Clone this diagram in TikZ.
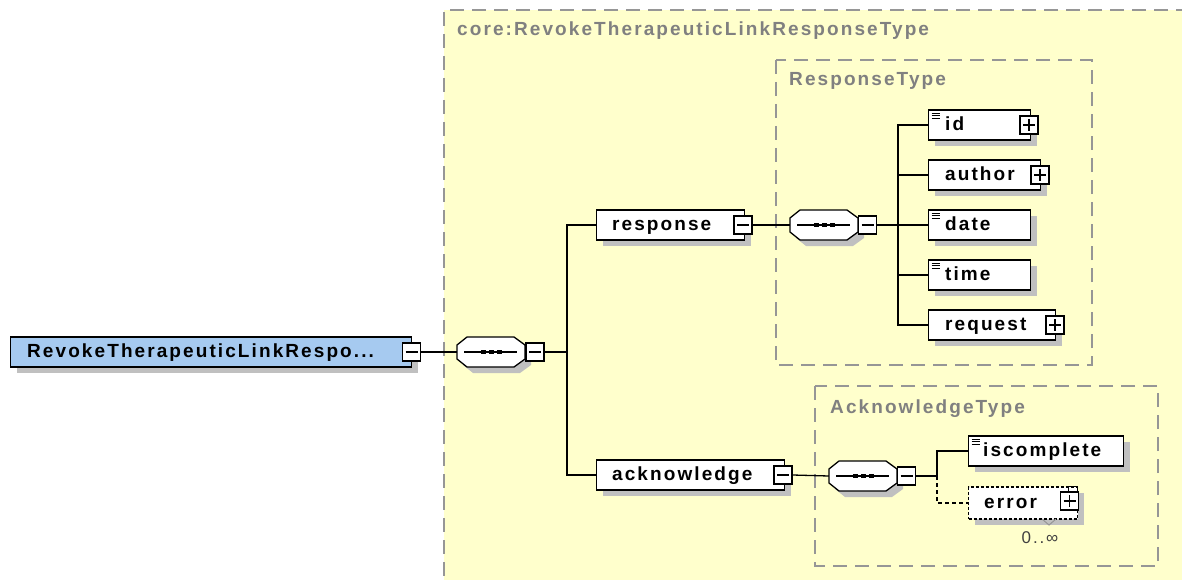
\documentclass[tikz,border=0pt]{standalone}
\usepackage{fontspec}
\setmainfont{Liberation Sans}
\newfontfamily\xfont[LetterSpace=11]{Liberation Sans}
\usetikzlibrary{shadows}
\definecolor{bgy}{RGB}{255,255,204}
\definecolor{shc}{RGB}{192,192,192}
\definecolor{rootblue}{RGB}{166,202,240}
\definecolor{tgray}{RGB}{128,128,128}
\definecolor{dgray}{RGB}{150,150,150}
\tikzset{
  shd/.style={drop shadow={shadow xshift=6pt,shadow yshift=-6pt,fill=shc,opacity=1}},
  elem/.style={rectangle,draw=black,line width=1.3pt,fill=white,shd,minimum height=30pt,inner sep=0pt},
  lbl/.style={font={\xfont\fontsize{19pt}{22pt}\selectfont\bfseries},inner sep=0pt,anchor=base west},
  ttl/.style={lbl,text=tgray},
  simple/.style={path picture={\foreach \k in {3,5.5,8}{\draw[line width=0.8pt] ([xshift=3pt,yshift=-\k pt]path picture bounding box.north west) -- ++(8pt,0);}}},
  mbox/.style={rectangle,draw=black,line width=1.1pt,fill=white,minimum size=18pt,inner sep=0pt,
    path picture={\draw[line width=1.1pt] ([xshift=3pt]path picture bounding box.west) -- ([xshift=-3pt]path picture bounding box.east);}},
  pbox/.style={mbox,path picture={\draw[line width=1.1pt] ([xshift=3pt]path picture bounding box.west) -- ([xshift=-3pt]path picture bounding box.east);
     \draw[line width=1.1pt] ([yshift=-3pt]path picture bounding box.north) -- ([yshift=3pt]path picture bounding box.south);}},
  seqanchor/.style={rectangle,minimum width=68pt,minimum height=30pt,inner sep=0pt},
  conn/.style={draw=black,line width=1.3pt},
  region/.style={draw=dgray,line width=1.8pt,dash pattern=on 14pt off 8pt},
}
% sequence compositor: name, x, y
\newcommand\mkseq[3]{%
  \node[seqanchor] (#1) at (#2,#3) {};
  \fill[shc,shift={(#2+6,#3+6)}] (-34,-7) -- (-24,-15) -- (23,-15) -- (34,-7) -- (34,7) -- (23,15) -- (-24,15) -- (-34,7) -- cycle;
  \filldraw[fill=white,draw=black,line width=1.3pt,shift={(#2,#3)}] (-34,-7) -- (-24,-15) -- (23,-15) -- (34,-7) -- (34,7) -- (23,15) -- (-24,15) -- (-34,7) -- cycle;
  \draw[line width=1.1pt,shift={(#2,#3)}] (-27,0) -- (26,0);
  \foreach \d in {-8,0,8}{\fill[shift={(#2,#3)}] (\d-2.5,-2) rectangle (\d+2.5,2);}
}
\begin{document}
\begin{tikzpicture}[x=1pt,y=-1pt]
\useasboundingbox (0,0) rectangle (1182,580);
% outer complex type region
\fill[bgy] (444,10) rectangle (1190,590);
\draw[region] (1190,10) -- (444,10) -- (444,590);
\node[ttl] (ttlcore) at (457,36) {core:RevokeTherapeuticLinkResponseType};
\draw[region] (776,60) rectangle (1092,365);
\node[ttl] (ttlresp) at (789,86) {ResponseType};
\draw[region] (815,386) rectangle (1158,566);
\node[ttl] (ttlack) at (830,413) {AcknowledgeType};

% root
\node[elem,fill=rootblue,minimum width=401pt,anchor=west] (root) at (10,352) {};
\node[lbl] (roottxt) at (27,357.5) {RevokeTherapeuticLinkRespo...};
\node[mbox] (rootm) at (411.5,352) {};

% sequence 1
\mkseq{seq1}{491}{352}
\node[mbox] (seq1m) at (535,352) {};
\coordinate (j1) at (567,352);

% response
\node[elem,minimum width=148pt,anchor=west] (resp) at (596,225) {};
\node[lbl] (resptxt) at (612,230.5) {response};
\node[mbox] (respm) at (743,225) {};

% acknowledge
\node[elem,minimum width=188pt,anchor=west] (ack) at (596,475) {};
\node[lbl] (acktxt) at (612,480.5) {acknowledge};
\node[mbox] (ackm) at (783,475) {};

% sequence 2
\mkseq{seq2}{824}{225}
\node[mbox] (seq2m) at (867.5,225) {};
\coordinate (j2) at (898,225);

% response children
\node[elem,simple,minimum width=102pt,anchor=west] (id) at (928,125) {};
\node[lbl] (idtxt) at (945,130.5) {id};
\node[pbox] (idp) at (1029,125) {};
\node[elem,minimum width=112pt,anchor=west] (author) at (928,175) {};
\node[lbl] (authortxt) at (945,180.5) {author};
\node[pbox] (authorp) at (1040,175) {};
\node[elem,simple,minimum width=102pt,anchor=west] (date) at (928,225) {};
\node[lbl] (datetxt) at (945,230.5) {date};
\node[elem,simple,minimum width=102pt,anchor=west] (time) at (928,275) {};
\node[lbl] (timetxt) at (945,280.5) {time};
\node[elem,minimum width=127pt,anchor=west] (request) at (928,325) {};
\node[lbl] (requesttxt) at (945,330.5) {request};
\node[pbox] (requestp) at (1055,325) {};

% sequence 3
\mkseq{seq3}{863}{476}
\node[mbox] (seq3m) at (906.5,476) {};
\coordinate (j3) at (937,476);

% acknowledge children
\node[elem,simple,minimum width=155pt,anchor=west] (isc) at (968,451) {};
\node[lbl] (isctxt) at (983,456.5) {iscomplete};
\node[elem,dashed,dash pattern=on 3pt off 2pt,minimum width=109pt,minimum height=32pt,anchor=west] (err) at (968,503) {};
\node[lbl] (errtxt) at (984,508.5) {error};
\node[pbox] (errp) at (1069.5,501) {};
\draw[line width=1pt] (1068,492) -- (1068,486) -- (1077,486) -- (1077,490);
\draw[dgray,line width=1pt] (1042,519) -- (1049,525) -- (1056,519);
\node[font={\xfont\fontsize{17pt}{19pt}\selectfont},text=black!75,inner sep=0pt] (mult) at (1040,538) {0..∞};

% connectors
\draw[conn] (rootm.east) -- (seq1.west);
\draw[conn] (seq1m.east) -- (j1);
\draw[conn] (j1) |- (resp.west);
\draw[conn] (j1) |- (ack.west);
\draw[conn] (respm.east) -- (seq2.west);
\draw[conn] (seq2m.east) -- (j2);
\foreach \c in {id,author,date,time,request}{\draw[conn] (j2) |- (\c.west);}
\draw[conn] (ackm.east) -- (seq3.west);
\draw[conn] (seq3m.east) -- (j3);
\draw[conn] (j3) |- (isc.west);
\draw[conn,dashed,dash pattern=on 4pt off 3pt] (j3) |- (err.west);
\end{tikzpicture}
\end{document}
